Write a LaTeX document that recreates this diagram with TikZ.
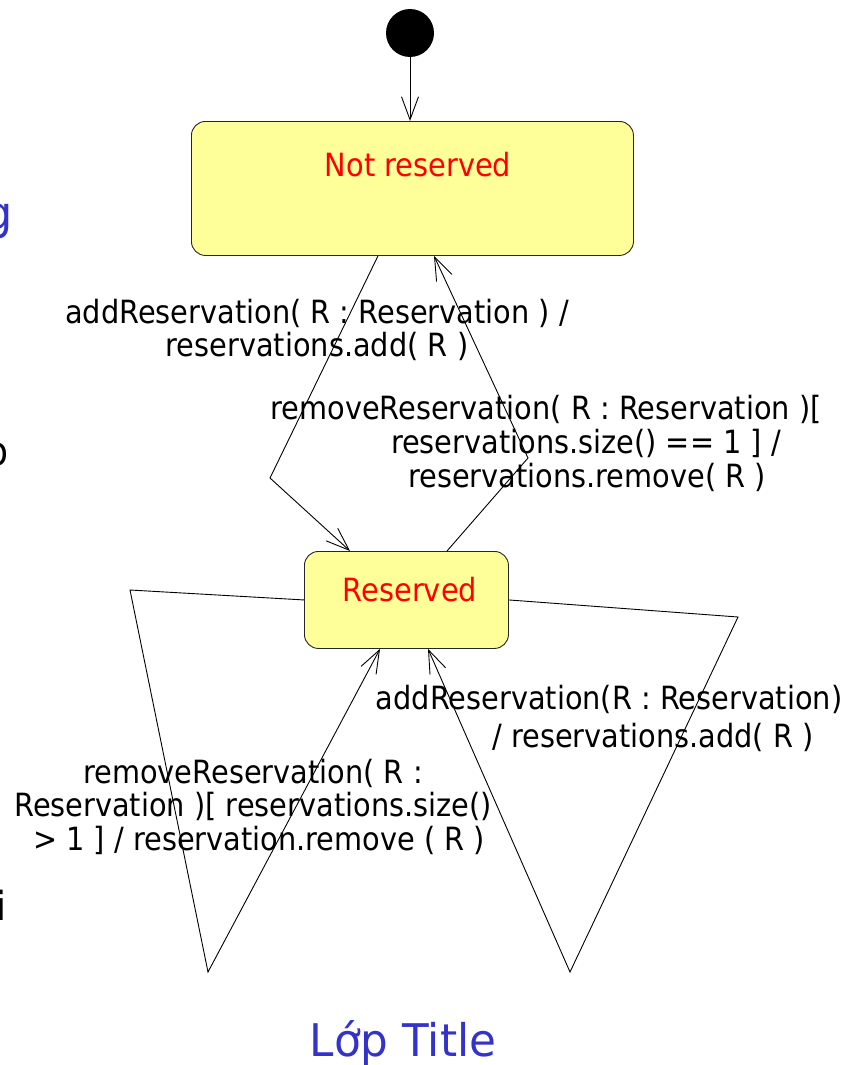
\documentclass[tikz,border=0pt]{standalone}
\usepackage{fontspec}
\setmainfont{DejaVu Sans}[FakeStretch=0.9]
\newfontfamily\titlefont{DejaVu Sans}[FakeStretch=0.97]
\usetikzlibrary{arrows.meta}
\definecolor{stfill}{HTML}{FFFF99}
\definecolor{stred}{HTML}{FF0000}
\definecolor{ttblue}{HTML}{3333CC}
\begin{document}
\begin{tikzpicture}[x=1pt,y=-1pt,
  statebox/.style={draw=black!85, fill=stfill, rounded corners=14pt, line width=0.9pt, inner sep=0pt},
  trans/.style={line width=0.9pt, -{Straight Barb[length=23pt,width=17pt]}},
  lbl/.style={anchor=base, inner sep=0pt, font=\fontsize{32}{35}\selectfont},
  sname/.style={anchor=base, inner sep=0pt, text=stred, font=\fontsize{32}{35}\selectfont}
]
\useasboundingbox (0,0) rectangle (854,1065);

% cut-off fragments at the left edge
\node[anchor=base east, inner sep=0pt, text=ttblue, font=\titlefont\fontsize{46}{50}\selectfont] (fg) at (13,229) {g};
\node[anchor=base east, inner sep=0pt, font=\fontsize{40}{44}\selectfont] (fo) at (9,465) {o};
\node[anchor=base east, inner sep=0pt, font=\fontsize{40}{44}\selectfont] (fi) at (7,920) {i};

% initial state
\node[circle, fill=black, minimum size=48pt, inner sep=0pt] (init) at (410,33) {};

% states
\node[statebox, minimum width=442pt, minimum height=134pt, anchor=north west] (nr) at (191,121) {};
\node[sname] (nrt) at (418,176) {Not reserved};
\node[statebox, minimum width=204pt, minimum height=97pt, anchor=north west] (r) at (304,551) {};
\node[sname] (rt) at (410,601) {Reserved};

% corners
\coordinate (c1) at (270,478);
\coordinate (c2) at (528,458);
\coordinate (c3) at (130,590);
\coordinate (c4) at (208,972);
\coordinate (c5) at (738,617);
\coordinate (c6) at (570,972);

% transitions
\draw[trans] (init) -- (init |- nr.north);
\draw[trans] ([xshift=187pt]nr.south west) -- (c1) -- ([xshift=46pt]r.north west);
\draw[trans] ([xshift=143pt]r.north west) -- (c2) -- ([xshift=243pt]nr.south west);
\draw[trans] (r.west) -- (c3) -- (c4) -- ([xshift=76pt]r.south west);
\draw[trans] (r.east) -- (c5) -- (c6) -- ([xshift=124pt]r.south west);

% labels
\node[lbl] (l1a) at (317,323) {addReservation( R : Reservation ) /};
\node[lbl] (l1b) at (317,356) {reservations.add( R )};
\node[lbl] (l2a) at (546,419) {removeReservation( R : Reservation )[};
\node[lbl] (l2b) at (586,453) {reservations.size() == 1 ] /};
\node[lbl] (l2c) at (587,487) {reservations.remove( R )};
\node[lbl] (l3a) at (609,709) {addReservation(R : Reservation)};
\node[lbl] (l3b) at (653,747) {/ reservations.add( R )};
\node[lbl] (l4a) at (253,783) {removeReservation( R :};
\node[lbl] (l4b) at (253,816) {Reservation )[ reservations.size()};
\node[lbl] (l4c) at (259,850) {> 1 ] / reservation.remove ( R )};

% title
\node[anchor=base, inner sep=0pt, text=ttblue, font=\titlefont\fontsize{45}{50}\selectfont] (title) at (403,1056) {Lớp Title};
\end{tikzpicture}
\end{document}
